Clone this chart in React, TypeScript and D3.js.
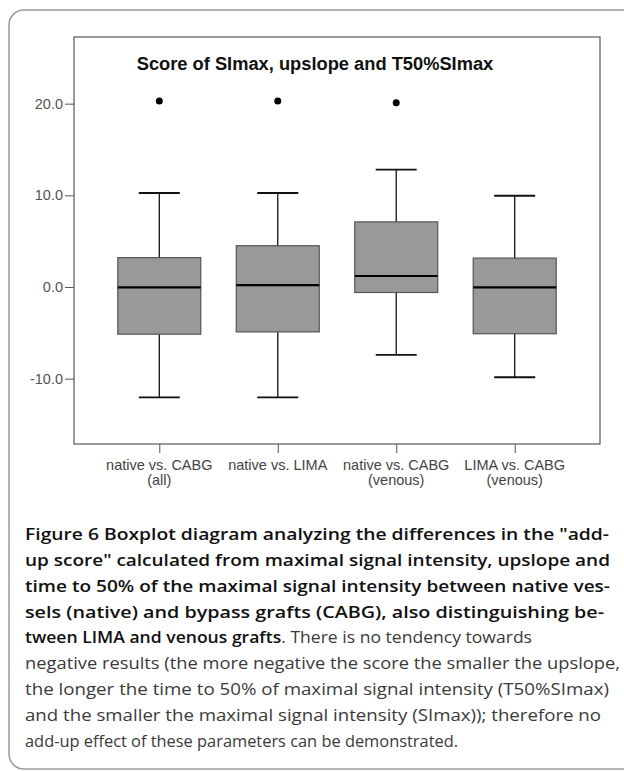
import React, { useEffect, useRef } from 'react';
import * as d3 from 'd3';

// categories (multi-line tick labels)
const categories = ['all', 'lima', 'venous', 'limaVenous'];
const categoryLabels = [
  ['native vs. CABG', '(all)'],
  ['native vs. LIMA'],
  ['native vs. CABG', '(venous)'],
  ['LIMA vs. CABG', '(venous)'],
];

// box statistics
const whiskerLow = [-12.05, -12.05, -7.4, -9.85];
const q1 = [-5.15, -4.9, -0.6, -5.1];
const median = [-0.05, 0.2, 1.2, -0.05];
const q3 = [3.2, 4.5, 7.1, 3.15];
const whiskerHigh = [10.25, 10.25, 12.8, 9.95];
const outliers = [[20.3], [20.3], [20.1], []];

const yTicks = [-10, 0, 10, 20];
const yDomain = [-17.13, 27.27];

const captionLines = [
  [{ t: 'Figure 6 Boxplot diagram analyzing the differences in the "add-', b: true }],
  [{ t: 'up score" calculated from maximal signal intensity, upslope and', b: true }],
  [{ t: 'time to 50% of the maximal signal intensity between native ves-', b: true }],
  [{ t: 'sels (native) and bypass grafts (CABG), also distinguishing be-', b: true }],
  [{ t: 'tween LIMA and venous grafts', b: true }, { t: '. There is no tendency towards', b: false }],
  [{ t: 'negative results (the more negative the score the smaller the upslope,', b: false }],
  [{ t: 'the longer the time to 50% of maximal signal intensity (T50%SImax)', b: false }],
  [{ t: 'and the smaller the maximal signal intensity (SImax)); therefore no', b: false }],
  [{ t: 'add-up effect of these parameters can be demonstrated.', b: false }],
];
const captionEnds = [609, 610, 610, 604, 532, 620, 609, 601, 458];

const App = () => {
  const svgRef = useRef();
  const svgWidth = 624;
  const svgHeight = 771;
  const plot = { left: 74, right: 600, top: 37, bottom: 444 };

  useEffect(() => {
    const svg = d3.select(svgRef.current);
    svg.selectAll('*').remove();

    // outer panel (open to the right and bottom edges of the page)
    svg.append('rect')
      .attr('x', 9).attr('y', 10)
      .attr('width', 660).attr('height', 759)
      .attr('rx', 15)
      .attr('fill', 'none')
      .attr('stroke', '#9a9a9a')
      .attr('stroke-width', 1.5);

    const x = d3.scalePoint()
      .domain(categories)
      .range([plot.left, plot.right])
      .padding(0.72);

    const y = d3.scaleLinear()
      .domain(yDomain)
      .range([plot.bottom, plot.top]);

    // plot frame
    svg.append('rect')
      .attr('x', plot.left).attr('y', plot.top)
      .attr('width', plot.right - plot.left)
      .attr('height', plot.bottom - plot.top)
      .attr('fill', 'none')
      .attr('stroke', '#555')
      .attr('stroke-width', 1.2);

    // title
    svg.append('text')
      .attr('x', 315).attr('y', 69.5)
      .attr('text-anchor', 'middle')
      .attr('font-family', 'Liberation Sans, Arial, sans-serif')
      .attr('font-weight', 'bold')
      .attr('font-size', 18.3)
      .attr('fill', '#111')
      .text('Score of SImax, upslope and T50%SImax');

    // y axis, hyphen minus like the original
    const fmt = d => d3.format('.1f')(d).replace('\u2212', '-');
    const yAxis = svg.append('g')
      .attr('transform', `translate(${plot.left},0)`)
      .call(d3.axisLeft(y).tickValues(yTicks).tickSize(9).tickPadding(2).tickFormat(fmt));
    yAxis.select('.domain').remove();
    yAxis.selectAll('line').attr('stroke', '#555');
    yAxis.selectAll('text')
      .attr('font-family', 'Liberation Sans, Arial, sans-serif')
      .attr('font-size', 14.5)
      .attr('fill', '#555');

    // x axis ticks and labels
    const xAxis = svg.append('g')
      .attr('transform', `translate(0,${plot.bottom})`)
      .call(d3.axisBottom(x).tickSize(9).tickFormat(() => ''));
    xAxis.select('.domain').remove();
    xAxis.selectAll('line').attr('stroke', '#555');

    categories.forEach((c, i) => {
      const t = svg.append('text')
        .attr('x', x(c))
        .attr('y', 470)
        .attr('text-anchor', 'middle')
        .attr('font-family', 'Liberation Sans, Arial, sans-serif')
        .attr('font-size', 14.5)
        .attr('fill', '#444');
      categoryLabels[i].forEach((line, j) => {
        t.append('tspan')
          .attr('x', x(c))
          .attr('dy', j === 0 ? 0 : 15)
          .text(line);
      });
    });

    const boxW = 83;
    const capW = 41;
    const boxes = svg.append('g');

    categories.forEach((c, i) => {
      const cx = x(c);
      const g = boxes.append('g');
      // whiskers
      g.append('line')
        .attr('x1', cx).attr('x2', cx)
        .attr('y1', y(whiskerHigh[i])).attr('y2', y(q3[i]))
        .attr('stroke', '#111').attr('stroke-width', 1.3);
      g.append('line')
        .attr('x1', cx).attr('x2', cx)
        .attr('y1', y(q1[i])).attr('y2', y(whiskerLow[i]))
        .attr('stroke', '#111').attr('stroke-width', 1.3);
      [whiskerHigh[i], whiskerLow[i]].forEach(v => {
        g.append('line')
          .attr('x1', cx - capW / 2).attr('x2', cx + capW / 2)
          .attr('y1', y(v)).attr('y2', y(v))
          .attr('stroke', '#111').attr('stroke-width', 1.8);
      });
      // box
      g.append('rect')
        .attr('x', cx - boxW / 2)
        .attr('y', y(q3[i]))
        .attr('width', boxW)
        .attr('height', y(q1[i]) - y(q3[i]))
        .attr('fill', '#999999')
        .attr('stroke', '#555')
        .attr('stroke-width', 1.2);
      // median
      g.append('line')
        .attr('x1', cx - boxW / 2).attr('x2', cx + boxW / 2)
        .attr('y1', y(median[i])).attr('y2', y(median[i]))
        .attr('stroke', '#000').attr('stroke-width', 2.2);
      // outliers
      outliers[i].forEach(v => {
        g.append('circle')
          .attr('cx', cx).attr('cy', y(v))
          .attr('r', 3.5)
          .attr('fill', '#000');
      });
    });

    // caption
    captionLines.forEach((parts, i) => {
      const t = svg.append('text')
        .attr('x', 25)
        .attr('y', 540 + i * 25.84)
        .attr('font-family', 'Open Sans, Noto Sans, sans-serif')
        .attr('font-size', 16.5)
        .attr('textLength', captionEnds[i] - 25)
        .attr('lengthAdjust', 'spacingAndGlyphs');
      parts.forEach(p => {
        t.append('tspan')
          .attr('font-weight', p.b ? 600 : 'normal')
          .attr('fill', p.b ? '#111' : '#3a3a3a')
          .text(p.t);
      });
    });
  }, []);

  return (
    <svg
      ref={svgRef}
      width={svgWidth}
      height={svgHeight}
      style={{ position: 'absolute', left: 0, top: 0, background: '#fff' }}
    ></svg>
  );
};

export default App;
